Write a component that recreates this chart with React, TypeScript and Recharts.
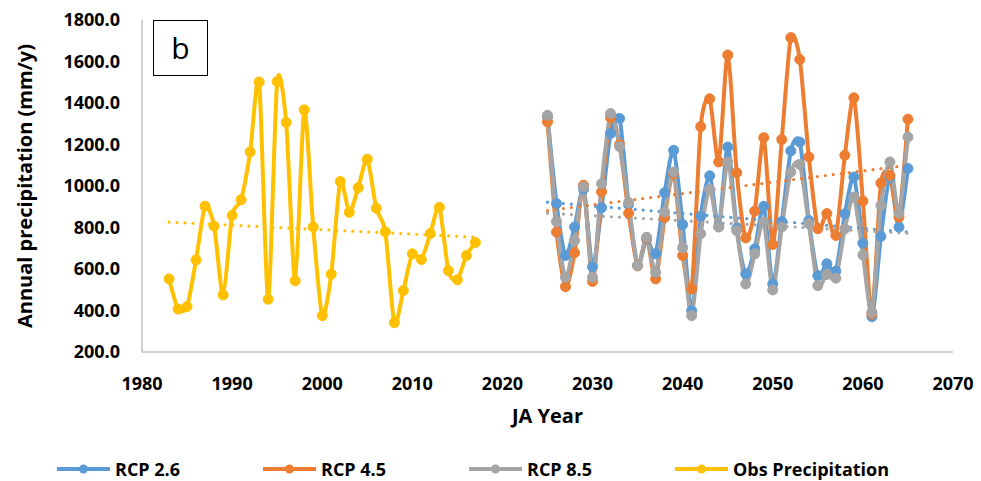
import { LineChart, Line, XAxis, YAxis, Legend, Label } from 'recharts'

// observed precipitation 1983-2017 (mm/y)
const obsYears = [1983, 1984, 1985, 1986, 1987, 1988, 1989, 1990, 1991, 1992, 1993, 1994, 1995, 1996, 1997, 1998, 1999, 2000, 2001, 2002, 2003, 2004, 2005, 2006, 2007, 2008, 2009, 2010, 2011, 2012, 2013, 2014, 2015, 2016, 2017]
const obsValues = [552, 407, 419, 644, 903, 806, 475, 858, 934, 1164, 1501, 454, 1503, 1306, 543, 1367, 802, 375, 575, 1022, 873, 992, 1129, 893, 779, 341, 496, 673, 646, 771, 897, 592, 548, 665, 728]

// projections 2025-2065
const rcpYears = [2025, 2026, 2027, 2028, 2029, 2030, 2031, 2032, 2033, 2034, 2035, 2036, 2037, 2038, 2039, 2040, 2041, 2042, 2043, 2044, 2045, 2046, 2047, 2048, 2049, 2050, 2051, 2052, 2053, 2054, 2055, 2056, 2057, 2058, 2059, 2060, 2061, 2062, 2063, 2064, 2065]
const rcp26 = [1333, 915, 665, 802, 985, 610, 895, 1253, 1325, 910, 617, 745, 673, 968, 1172, 814, 399, 854, 1049, 805, 1188, 795, 577, 697, 902, 528, 829, 1169, 1212, 834, 568, 625, 590, 866, 1043, 724, 370, 757, 1040, 802, 1084]
const rcp45 = [1309, 778, 515, 678, 1004, 540, 972, 1330, 1200, 869, 615, 749, 552, 848, 1060, 665, 505, 1286, 1420, 1116, 1631, 1064, 750, 879, 1233, 718, 1224, 1715, 1610, 1140, 794, 867, 762, 1148, 1425, 927, 383, 1014, 1051, 850, 1322]
const rcp85 = [1341, 829, 560, 737, 995, 560, 1011, 1349, 1190, 920, 617, 753, 584, 874, 1067, 703, 375, 770, 984, 802, 1116, 785, 528, 673, 826, 499, 802, 1067, 1104, 818, 520, 574, 556, 794, 947, 668, 391, 906, 1116, 869, 1236]

// linear trend end points
const obsTrendYears = [1983, 2017]
const obsTrend = [826, 753]
const rcpTrendYears = [2025, 2065]
const rcp26Trend = [922, 778]
const rcp45Trend = [882, 1100]
const rcp85Trend = [869, 772]

const xTicks = [1980, 1990, 2000, 2010, 2020, 2030, 2040, 2050, 2060, 2070]
const yTicks = [200, 400, 600, 800, 1000, 1200, 1400, 1600, 1800]

const series = [
  { name: 'RCP 2.6', color: '#5B9BD5', years: rcpYears, values: rcp26, trend: rcp26Trend, trendYears: rcpTrendYears },
  { name: 'RCP 4.5', color: '#ED7D31', years: rcpYears, values: rcp45, trend: rcp45Trend, trendYears: rcpTrendYears },
  { name: 'RCP 8.5', color: '#A5A5A5', years: rcpYears, values: rcp85, trend: rcp85Trend, trendYears: rcpTrendYears },
  { name: 'Obs Precipitation', color: '#FFC000', years: obsYears, values: obsValues, trend: obsTrend, trendYears: obsTrendYears },
]

const toRows = (years: number[], values: number[]) => years.map((year, i) => ({ year, value: values[i] }))

// smoothing like the spreadsheet's "smoothed line" (cardinal spline as bezier)
const smoothCurve: any = (context: any) => {
  let pts: number[][] = []
  const k = 1 / 8
  return {
    areaStart() {},
    areaEnd() {},
    lineStart() { pts = [] },
    point(x: number, y: number) { pts.push([+x, +y]) },
    lineEnd() {
      const n = pts.length
      if (!n) return
      context.moveTo(pts[0][0], pts[0][1])
      for (let i = 0; i < n - 1; i++) {
        const p0 = pts[i - 1] || pts[i]
        const p1 = pts[i]
        const p2 = pts[i + 1]
        const p3 = pts[i + 2] || p2
        context.bezierCurveTo(
          p1[0] + (p2[0] - p0[0]) * k, p1[1] + (p2[1] - p0[1]) * k,
          p2[0] - (p3[0] - p1[0]) * k, p2[1] - (p3[1] - p1[1]) * k,
          p2[0], p2[1]
        )
      }
    },
  }
}

const font = '"Open Sans", sans-serif'

const LegendContent = () => (
  <div style={{ position: 'relative', height: 24, width: 981, fontFamily: font, fontWeight: 700, fontSize: 18 }}>
    {series.map((s, i) => (
      <div key={s.name} style={{ position: 'absolute', left: 57 + i * 206, top: 0, height: 24, display: 'flex', alignItems: 'center' }}>
        <svg width={53} height={24}>
          <line x1={0} y1={12} x2={53} y2={12} stroke={s.color} strokeWidth={4} />
          <circle cx={26.5} cy={12} r={4.5} fill={s.color} />
        </svg>
        <span style={{ marginLeft: 5, color: '#000', whiteSpace: 'nowrap' }}>{s.name}</span>
      </div>
    ))}
  </div>
)

export default function App() {
  return (
    <div style={{ position: 'absolute', left: 0, top: 0, width: 981, height: 481, background: '#fff' }}>
      <LineChart width={981} height={481} margin={{ top: 20, right: 28, left: 0, bottom: 0 }}>
        <XAxis
          type="number"
          dataKey="year"
          domain={[1980, 2070]}
          ticks={xTicks}
          allowDuplicatedCategory={false}
          height={105}
          tickSize={0}
          tickMargin={25}
          axisLine={{ stroke: '#d0d0d0', strokeWidth: 2 }}
          tick={{ fill: '#000', fontFamily: font, fontWeight: 700, fontSize: 18 }}
        >
          <Label
            value="JA Year"
            position="insideBottom"
            offset={34}
            style={{ fill: '#000', fontFamily: font, fontWeight: 700, fontSize: 20 }}
          />
        </XAxis>
        <YAxis
          type="number"
          domain={[200, 1800]}
          ticks={yTicks}
          width={142}
          tickSize={0}
          tickMargin={22}
          tickFormatter={(v: number) => v.toFixed(1)}
          axisLine={{ stroke: '#d0d0d0', strokeWidth: 2 }}
          tick={{ fill: '#000', fontFamily: font, fontWeight: 700, fontSize: 18 }}
        >
          <Label
            value="Annual precipitation (mm/y)"
            angle={-90}
            position="insideLeft"
            offset={25}
            style={{ fill: '#000', fontFamily: font, fontWeight: 700, fontSize: 20, textAnchor: 'middle' }}
          />
        </YAxis>
        <Legend verticalAlign="bottom" align="left" content={LegendContent} wrapperStyle={{ left: 0, width: 981, height: 24 }} />

        {series.map(s => (
          <Line
            key={s.name}
            name={s.name}
            data={toRows(s.years, s.values)}
            dataKey="value"
            type={smoothCurve}
            stroke={s.color}
            strokeWidth={4}
            dot={{ r: 5, fill: s.color, stroke: s.color, strokeWidth: 1 }}
            activeDot={false}
            isAnimationActive={false}
          />
        ))}

        {/* 趋势线 - 点线 */}
        {series.map(s => (
          <Line
            key={s.name + '-trend'}
            name={s.name + ' trend'}
            data={toRows(s.trendYears, s.trend)}
            dataKey="value"
            type="linear"
            stroke={s.color}
            strokeWidth={3.2}
            strokeLinecap="round"
            strokeDasharray="0 8"
            dot={false}
            activeDot={false}
            legendType="none"
            isAnimationActive={false}
          />
        ))}
      </LineChart>

      <div
        style={{
          position: 'absolute', left: 153, top: 20, width: 55, height: 56,
          border: '1px solid #000', background: '#fff', boxSizing: 'border-box',
          display: 'flex', alignItems: 'center', justifyContent: 'center',
          fontFamily: font, fontSize: 30, color: '#000', lineHeight: 1,
        }}
      >
        b
      </div>
    </div>
  )
}
